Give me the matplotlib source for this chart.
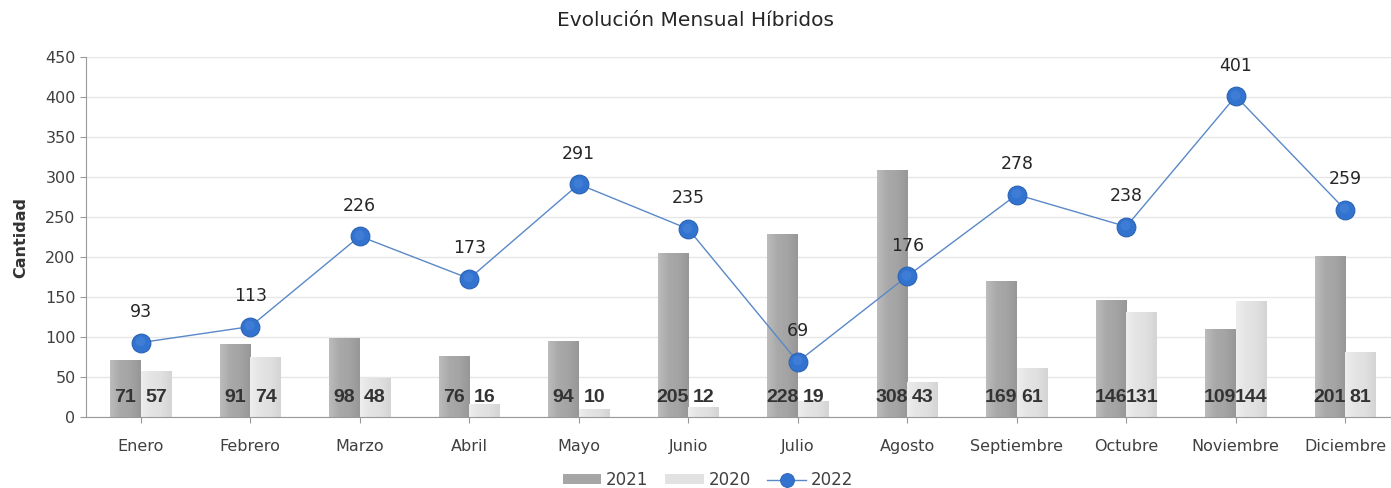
import numpy as np
import matplotlib
matplotlib.use('Agg')
import matplotlib.pyplot as plt
from matplotlib.colors import LinearSegmentedColormap
from matplotlib.patches import Patch
from matplotlib.lines import Line2D

meses = ['Enero', 'Febrero', 'Marzo', 'Abril', 'Mayo', 'Junio', 'Julio',
         'Agosto', 'Septiembre', 'Octubre', 'Noviembre', 'Diciembre']
v2021 = [71, 91, 98, 76, 94, 205, 228, 308, 169, 146, 109, 201]
v2020 = [57, 74, 48, 16, 10, 12, 19, 43, 61, 131, 144, 81]
v2022 = [93, 113, 226, 173, 291, 235, 69, 176, 278, 238, 401, 259]
yticks = [0, 50, 100, 150, 200, 250, 300, 350, 400, 450]

plt.rcParams['font.family'] = ['DejaVu Sans']

fig = plt.figure(figsize=(13.91, 4.88), dpi=100)
ax = fig.add_axes([86 / 1391, 71 / 488, 1314 / 1391, 360 / 488])

x = np.arange(len(meses))
w = 0.28
cm21 = LinearSegmentedColormap.from_list('g21', ['#bcbcbc', '#a9a9a9', '#a4a4a4', '#979797'])
cm20 = LinearSegmentedColormap.from_list('g20', ['#eeeeee', '#e4e4e4', '#e0e0e0', '#d4d4d4'])
grad = np.linspace(0, 1, 64).reshape(1, -1)


def gradbars(xs, vals, cmap):
    for xi, v in zip(xs, vals):
        ax.imshow(grad, extent=[xi - w / 2, xi + w / 2, 0, v], aspect='auto',
                  cmap=cmap, interpolation='bilinear', zorder=2)


gradbars(x - w / 2, v2021, cm21)
gradbars(x + w / 2, v2020, cm20)

ax.plot(x, v2022, color='#5a88c8', lw=1, marker='o', markersize=13.5,
        markerfacecolor='#3373d0', markeredgecolor='#2b62b5',
        markeredgewidth=0.8, zorder=4)
# soft highlight to mimic the glossy marker
ax.plot(x - 0.01, np.array(v2022) + 1.8, ls='none', marker='o', markersize=7,
        markerfacecolor='#4a86dc', markeredgewidth=0, alpha=0.5, zorder=4)

for xi, a, b in zip(x, v2021, v2020):
    ax.text(xi - w / 2, 25, str(a), ha='center', va='center', fontsize=14,
            fontweight='bold', color='#333333', zorder=5, family='Liberation Sans')
    ax.text(xi + w / 2, 25, str(b), ha='center', va='center', fontsize=14,
            fontweight='bold', color='#333333', zorder=5, family='Liberation Sans')

for xi, v in zip(x, v2022):
    ax.annotate(str(v), (xi, v), xytext=(0, 22), textcoords='offset points',
                ha='center', va='center', fontsize=12.5, color='#262626', zorder=5)

ax.set_xlim(-0.5, len(meses) - 0.5)
ax.set_ylim(0, 450)
ax.set_yticks(yticks)
ax.set_xticks(x)
ax.set_xticklabels(meses)
ax.tick_params(axis='both', labelsize=11.5, colors='#404040', length=4)
ax.tick_params(axis='x', pad=12)
ax.tick_params(axis='y', color='#999999')
ax.tick_params(axis='x', color='#999999')
ax.yaxis.grid(True, color='#e6e6e6', lw=1, zorder=0)
ax.set_axisbelow(True)
for s in ['top', 'right']:
    ax.spines[s].set_visible(False)
ax.spines['left'].set_color('#999999')
ax.spines['bottom'].set_color('#999999')

ax.set_ylabel('Cantidad', fontsize=11.5, fontweight='bold', color='#333333', labelpad=12)
fig.text(0.5, 1 - 20 / 488, 'Evolución Mensual Híbridos', ha='center', va='center',
         fontsize=14.5, color='#262626')

h21 = Patch(facecolor='#a6a6a6')
h20 = Patch(facecolor='#e2e2e2')
h22 = Line2D([], [], color='#5a88c8', lw=1, marker='o', markersize=10,
             markerfacecolor='#3373d0', markeredgecolor='#2b62b5', markeredgewidth=0.6)
fig.legend(handles=[h21, h20, h22], labels=['2021', '2020', '2022'],
           loc='center', bbox_to_anchor=(0.509, 1 - 480 / 488), ncol=3,
           frameon=False, fontsize=12, handlelength=2.3, handleheight=0.55,
           columnspacing=1.0, handletextpad=0.3,
           labelcolor='#404040')

fig.savefig('out.png', dpi=100)
